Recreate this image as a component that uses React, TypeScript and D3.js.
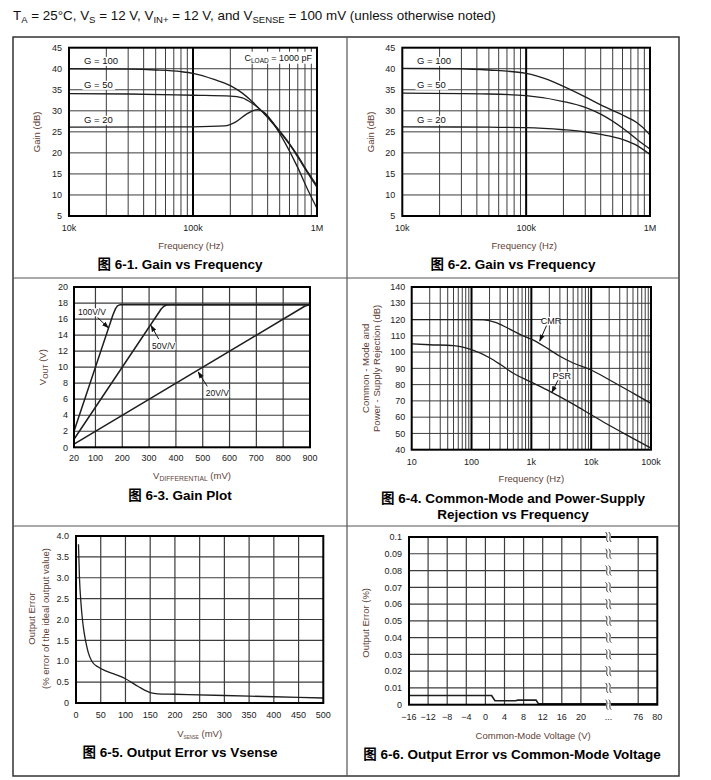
import React from 'react';
import * as d3 from 'd3';

type Pt = [number, number];

// ---------------- DATA ----------------
// Fig 6-1 Gain vs Frequency (CLOAD = 1000 pF)
const fig1G100: Pt[] = [[1e4, 40], [3e4, 39.9], [5e4, 39.7], [8e4, 39.3], [1e5, 38.9], [1.5e5, 37.4], [2e5, 36], [2.5e5, 34.2], [3e5, 32.2], [4e5, 28.4], [5e5, 25], [6e5, 22], [7e5, 19], [8.5e5, 15], [1e6, 11.8]];
const fig1G50: Pt[] = [[1e4, 34.1], [3e4, 34], [1e5, 33.7], [2e5, 33.5], [2.5e5, 33.1], [3e5, 31.8], [4e5, 28.6], [5e5, 25.2], [6e5, 22.2], [7e5, 19.3], [8.5e5, 15.3], [1e6, 12.2]];
const fig1G20: Pt[] = [[1e4, 26.1], [1e5, 26.2], [1.8e5, 26.4], [2.2e5, 27.3], [2.7e5, 29.2], [3.3e5, 30.3], [3.8e5, 29.5], [4.5e5, 26.8], [5.5e5, 22.5], [7e5, 16.5], [8.5e5, 11], [1e6, 6.8]];
// Fig 6-2 Gain vs Frequency
const fig2G100: Pt[] = [[1e4, 40.1], [3e4, 40], [5e4, 39.7], [1e5, 38.9], [1.5e5, 37.4], [2e5, 35.8], [3e5, 33.3], [4e5, 31.4], [6e5, 29], [8e5, 27], [9e5, 25.7], [1e6, 24.2]];
const fig2G50: Pt[] = [[1e4, 34.2], [5e4, 34], [1e5, 33.6], [2e5, 32.2], [3e5, 30.8], [4e5, 29.2], [6e5, 25.9], [8e5, 23], [1e6, 20.9]];
const fig2G20: Pt[] = [[1e4, 26.2], [5e4, 26.1], [1e5, 26], [2e5, 25.5], [3e5, 25], [4e5, 24.4], [6e5, 23.2], [8e5, 21.6], [1e6, 19.6]];
const gainTicks = [5, 10, 15, 20, 25, 30, 35, 40, 45];
const gainFreqTicks = [1e4, 1e5, 1e6];
const gainFreqLabels = ['10k', '100k', '1M'];
const gainSeriesLabels = ['G = 100', 'G = 50', 'G = 20'];

// Fig 6-3 Gain Plot
const fig3G100: Pt[] = [[20, 2], [165, 16.5], [175, 17.3], [182, 17.65], [192, 17.8], [900, 17.8]];
const fig3G50: Pt[] = [[20, 1], [345, 17.25], [355, 17.6], [365, 17.75], [380, 17.8], [900, 17.8]];
const fig3G20: Pt[] = [[20, 0.4], [880, 17.6], [900, 17.8]];
const fig3XTicks = [20, 100, 200, 300, 400, 500, 600, 700, 800, 900];
const fig3YTicks = [0, 2, 4, 6, 8, 10, 12, 14, 16, 18, 20];
const fig3Labels = ['100V/V', '50V/V', '20V/V'];

// Fig 6-4 CMR / PSR
const fig4CMR: Pt[] = [[10, 120], [100, 120], [160, 119.8], [250, 118.3], [400, 114.8], [700, 110.3], [1000, 108], [2000, 101.5], [3000, 97.4], [5000, 93.3], [1e4, 89], [2e4, 83], [5e4, 74.8], [1e5, 68.5]];
const fig4PSR: Pt[] = [[10, 105], [20, 104.5], [50, 104], [100, 101.5], [200, 96.5], [300, 92.5], [500, 87], [1000, 81.5], [2000, 76], [5000, 68], [1e4, 61.5], [2e4, 55], [5e4, 47], [1e5, 41]];
const fig4XTicks = [10, 100, 1e3, 1e4, 1e5];
const fig4XLabels = ['10', '100', '1k', '10k', '100k'];
const fig4YTicks = [40, 50, 60, 70, 80, 90, 100, 110, 120, 130, 140];

// Fig 6-5 Output error vs Vsense
const fig5Err: Pt[] = [[5, 3.8], [7, 3.0], [10, 2.4], [13, 2.0], [16, 1.72], [20, 1.45], [25, 1.2], [32, 1.0], [45, 0.86], [60, 0.77], [80, 0.68], [100, 0.58], [125, 0.4], [150, 0.25], [165, 0.22], [200, 0.21], [300, 0.18], [400, 0.15], [500, 0.12]];
const fig5XTicks = [0, 50, 100, 150, 200, 250, 300, 350, 400, 450, 500];
const fig5YTicks = [0, 0.5, 1.0, 1.5, 2.0, 2.5, 3.0, 3.5, 4.0];

// Fig 6-6 Output error vs common-mode voltage
const fig6Err: Pt[] = [[-16, 0.0055], [1.3, 0.0055], [2, 0.0024], [6.3, 0.0024], [6.8, 0.0027], [10.6, 0.0027], [11.1, 0.0006], [80, 0.0006]];
const fig6XTicks = [-16, -12, -8, -4, 0, 4, 8, 12, 16, 20, 76, 80];
const fig6YTicks = [0, 0.01, 0.02, 0.03, 0.04, 0.05, 0.06, 0.07, 0.08, 0.09, 0.1];

// ---------------- STYLE ----------------
const SANS = "'Liberation Sans', Arial, Helvetica, sans-serif";
const TITLE_FONT = "'Liberation Sans', 'Noto Sans CJK SC', sans-serif";
const GRID = '#3c3c3c';
const AXIS_TITLE = '#5e4137';
const CURVE = '#1e1e1e';
const TICK_FS = 9;
const AXIS_FS = 9.5;

function logGrid(min: number, max: number) {
  const out: { v: number; major: boolean }[] = [];
  for (let d = min; d < max; d *= 10) {
    for (let k = 1; k < 10; k++) {
      const v = d * k;
      if (v > min * 1.0001 && v < max * 0.9999) out.push({ v, major: k === 1 });
    }
  }
  return out;
}

function Border({ l, r, t, b }: { l: number; r: number; t: number; b: number }) {
  return <rect x={l} y={t} width={r - l} height={b - t} fill="none" stroke="#000" strokeWidth={2} />;
}

function Title({ x, y, lines }: { x: number; y: number; lines: string[] }) {
  return (
    <text x={x} y={y} textAnchor="middle" fontFamily={TITLE_FONT} fontWeight="bold" fontSize={13.5} fill="#000">
      {lines.map((s, i) => (
        <tspan key={i} x={x} dy={i === 0 ? 0 : 16}>{s}</tspan>
      ))}
    </text>
  );
}

function LabelBox({ x, y, text, fs = 9.5, anchor = 'start' }: { x: number; y: number; text: string; fs?: number; anchor?: string }) {
  const w = text.length * fs * 0.52;
  const x0 = anchor === 'middle' ? x - w / 2 : x;
  return (
    <g>
      <rect x={x0 - 1.5} y={y - fs * 0.8} width={w + 3} height={fs * 0.95} fill="#fff" />
      <text x={x} y={y} fontSize={fs} textAnchor={anchor as any} fill="#111">{text}</text>
    </g>
  );
}

// ---------------- PANELS ----------------
function GainPanel(p: { l: number; r: number; t: number; b: number; g100: Pt[]; g50: Pt[]; g20: Pt[]; cload: boolean; labelX: number; yTitleX: number; cellCx: number; title: string }) {
  const { l, r, t, b } = p;
  const xs = d3.scaleLog().domain([gainFreqTicks[0], gainFreqTicks[gainFreqTicks.length - 1]]).range([l, r]);
  const ys = d3.scaleLinear().domain([gainTicks[0], gainTicks[gainTicks.length - 1]]).range([b, t]);
  const line = d3.line<Pt>().x(d => xs(d[0])).y(d => ys(d[1])).curve(d3.curveMonotoneX);
  const vg = logGrid(gainFreqTicks[0], gainFreqTicks[gainFreqTicks.length - 1]);
  const labelYs = [41.85, 36.15, 27.85];
  return (
    <g>
      {gainTicks.slice(1, -1).map(v => (
        <line key={'h' + v} x1={l} x2={r} y1={ys(v)} y2={ys(v)} stroke={GRID} strokeWidth={1} />
      ))}
      {vg.map((g, i) => (
        <line key={'v' + i} x1={xs(g.v)} x2={xs(g.v)} y1={t} y2={b} stroke={g.major ? '#000' : GRID} strokeWidth={g.major ? 2 : 1} />
      ))}
      {[p.g100, p.g50, p.g20].map((s, i) => (
        <path key={'c' + i} d={line(s) || ''} fill="none" stroke={CURVE} strokeWidth={1.3} />
      ))}
      {gainSeriesLabels.map((s, i) => (
        <LabelBox key={s} x={p.labelX} y={ys(labelYs[i]) + 3.5} text={s} fs={9.5} />
      ))}
      {p.cload && (
        <g>
          <rect x={r - 73} y={t + 4} width={71} height={12} fill="#fff" />
          <text x={r - 5} y={t + 13} fontSize={9} textAnchor="end" fill="#111">
            C<tspan dy={2} fontSize={6.5}>LOAD</tspan><tspan dy={-2}> = 1000 pF</tspan>
          </text>
        </g>
      )}
      <Border l={l} r={r} t={t} b={b} />
      {gainTicks.map(v => (
        <text key={'yt' + v} x={l - 7} y={ys(v) + 3.2} fontSize={TICK_FS} textAnchor="end" fill="#222">{v}</text>
      ))}
      {gainFreqTicks.map((v, i) => (
        <text key={'xt' + v} x={xs(v)} y={b + 15} fontSize={TICK_FS} textAnchor="middle" fill="#222">{gainFreqLabels[i]}</text>
      ))}
      <text x={(l + r) / 2 - 2} y={b + 33} fontSize={AXIS_FS} textAnchor="middle" fill={AXIS_TITLE}>Frequency (Hz)</text>
      <text transform={`translate(${p.yTitleX},${(t + b) / 2}) rotate(-90)`} fontSize={AXIS_FS} textAnchor="middle" fill={AXIS_TITLE}>Gain (dB)</text>
      <Title x={p.cellCx} y={b + 53} lines={[p.title]} />
    </g>
  );
}

function Fig3() {
  const l = 74, r = 310, t = 287, b = 447.3;
  const xs = d3.scaleLinear().domain([fig3XTicks[0], fig3XTicks[fig3XTicks.length - 1]]).range([l, r]);
  const ys = d3.scaleLinear().domain([fig3YTicks[0], fig3YTicks[fig3YTicks.length - 1]]).range([b, t]);
  const line = d3.line<Pt>().x(d => xs(d[0])).y(d => ys(d[1])).curve(d3.curveLinear);
  const ann = [
    { lx: 35, ly: 16.5, from: [108, 16.2], to: [148, 14.9] },
    { lx: 311, ly: 12.3, from: [336, 13.5], to: [307, 15.2] },
    { lx: 511, ly: 6.4, from: [517, 7.6], to: [483, 9.4] },
  ];
  return (
    <g>
      {fig3YTicks.slice(1, -1).map(v => (
        <line key={'h' + v} x1={l} x2={r} y1={ys(v)} y2={ys(v)} stroke={GRID} strokeWidth={1.2} />
      ))}
      {fig3XTicks.slice(1, -1).map(v => (
        <line key={'v' + v} x1={xs(v)} x2={xs(v)} y1={t} y2={b} stroke={GRID} strokeWidth={1.2} />
      ))}
      {[fig3G100, fig3G50, fig3G20].map((s, i) => (
        <path key={'c' + i} d={line(s) || ''} fill="none" stroke={CURVE} strokeWidth={1.5} strokeLinejoin="round" />
      ))}
      {ann.map((a, i) => (
        <g key={'a' + i}>
          <line x1={xs(a.from[0])} y1={ys(a.from[1])} x2={xs(a.to[0])} y2={ys(a.to[1])} stroke="#111" strokeWidth={1} markerEnd="url(#arr)" />
          <LabelBox x={xs(a.lx)} y={ys(a.ly)} text={fig3Labels[i]} fs={8.5} />
        </g>
      ))}
      <Border l={l} r={r} t={t} b={b} />
      {fig3YTicks.map(v => (
        <text key={'yt' + v} x={l - 6} y={ys(v) + 3.2} fontSize={TICK_FS} textAnchor="end" fill="#222">{v}</text>
      ))}
      {fig3XTicks.map(v => (
        <text key={'xt' + v} x={xs(v)} y={b + 14} fontSize={TICK_FS} textAnchor="middle" fill="#222">{v}</text>
      ))}
      <text x={(l + r) / 2} y={b + 32} fontSize={AXIS_FS} textAnchor="middle" fill={AXIS_TITLE}>
        V<tspan dy={2} fontSize={6.8}>DIFFERENTIAL</tspan><tspan dy={-2}> (mV)</tspan>
      </text>
      <text transform={`translate(${l - 28},${(t + b) / 2}) rotate(-90)`} fontSize={AXIS_FS} textAnchor="middle" fill={AXIS_TITLE}>
        V<tspan dy={2} fontSize={6.8}>OUT</tspan><tspan dy={-2}> (V)</tspan>
      </text>
      <Title x={180} y={499.5} lines={['图 6-3. Gain Plot']} />
    </g>
  );
}

function Fig4() {
  const l = 411.7, r = 651, t = 287, b = 449.7;
  const xs = d3.scaleLog().domain([fig4XTicks[0], fig4XTicks[fig4XTicks.length - 1]]).range([l, r]);
  const ys = d3.scaleLinear().domain([fig4YTicks[0], fig4YTicks[fig4YTicks.length - 1]]).range([b, t]);
  const line = d3.line<Pt>().x(d => xs(d[0])).y(d => ys(d[1])).curve(d3.curveMonotoneX);
  const vg = logGrid(fig4XTicks[0], fig4XTicks[fig4XTicks.length - 1]);
  return (
    <g>
      {fig4YTicks.slice(1, -1).map(v => (
        <line key={'h' + v} x1={l} x2={r} y1={ys(v)} y2={ys(v)} stroke={GRID} strokeWidth={1} />
      ))}
      {vg.map((g, i) => (
        <line key={'v' + i} x1={xs(g.v)} x2={xs(g.v)} y1={t} y2={b} stroke={g.major ? '#000' : GRID} strokeWidth={g.major ? 2 : 1} />
      ))}
      {[fig4CMR, fig4PSR].map((s, i) => (
        <path key={'c' + i} d={line(s) || ''} fill="none" stroke={CURVE} strokeWidth={1.3} />
      ))}
      <line x1={xs(1800)} y1={ys(116.4)} x2={xs(1380)} y2={ys(106.8)} stroke="#111" strokeWidth={1} markerEnd="url(#arr)" />
      <line x1={xs(2800)} y1={ys(82.8)} x2={xs(2200)} y2={ys(75.2)} stroke="#111" strokeWidth={1} markerEnd="url(#arr)" />
      <LabelBox x={xs(2130)} y={ys(119.3) + 3.3} text="CMR" fs={9} anchor="middle" />
      <LabelBox x={xs(3210)} y={ys(85.5) + 3.3} text="PSR" fs={9} anchor="middle" />
      <Border l={l} r={r} t={t} b={b} />
      {fig4YTicks.map(v => (
        <text key={'yt' + v} x={l - 6.5} y={ys(v) + 3.2} fontSize={TICK_FS} textAnchor="end" fill="#222">{v}</text>
      ))}
      {fig4XTicks.map((v, i) => (
        <text key={'xt' + v} x={xs(v)} y={b + 15} fontSize={TICK_FS} textAnchor="middle" fill="#222">{fig4XLabels[i]}</text>
      ))}
      <text x={(l + r) / 2} y={b + 32} fontSize={AXIS_FS} textAnchor="middle" fill={AXIS_TITLE}>Frequency (Hz)</text>
      <text transform={`translate(${368.5},${(t + b) / 2}) rotate(-90)`} fontSize={AXIS_FS} textAnchor="middle" fill={AXIS_TITLE}>Common - Mode and</text>
      <text transform={`translate(${380},${(t + b) / 2}) rotate(-90)`} fontSize={AXIS_FS} textAnchor="middle" fill={AXIS_TITLE}>Power - Supply Rejection (dB)</text>
      <Title x={513} y={503} lines={['图 6-4. Common-Mode and Power-Supply', 'Rejection vs Frequency']} />
    </g>
  );
}

function Fig5() {
  const l = 76, r = 323.3, t = 536, b = 703;
  const xs = d3.scaleLinear().domain([fig5XTicks[0], fig5XTicks[fig5XTicks.length - 1]]).range([l, r]);
  const ys = d3.scaleLinear().domain([fig5YTicks[0], fig5YTicks[fig5YTicks.length - 1]]).range([b, t]);
  const line = d3.line<Pt>().x(d => xs(d[0])).y(d => ys(d[1])).curve(d3.curveMonotoneX);
  return (
    <g>
      {fig5YTicks.slice(1, -1).map(v => (
        <line key={'h' + v} x1={l} x2={r} y1={ys(v)} y2={ys(v)} stroke={GRID} strokeWidth={1.2} />
      ))}
      {fig5XTicks.slice(1, -1).map(v => (
        <line key={'v' + v} x1={xs(v)} x2={xs(v)} y1={t} y2={b} stroke={GRID} strokeWidth={1.2} />
      ))}
      <path d={line(fig5Err) || ''} fill="none" stroke={CURVE} strokeWidth={1.3} />
      <Border l={l} r={r} t={t} b={b} />
      {fig5YTicks.map(v => (
        <text key={'yt' + v} x={l - 7} y={ys(v) + 3.2} fontSize={TICK_FS} textAnchor="end" fill="#222">{v === 0 ? '0' : v.toFixed(1)}</text>
      ))}
      {fig5XTicks.map(v => (
        <text key={'xt' + v} x={xs(v)} y={b + 15} fontSize={TICK_FS} textAnchor="middle" fill="#222">{v}</text>
      ))}
      <text x={(l + r) / 2} y={b + 34} fontSize={AXIS_FS} textAnchor="middle" fill={AXIS_TITLE}>
        V<tspan dy={1.5} fontSize={4.5}>SENSE</tspan><tspan dy={-1.5}> (mV)</tspan>
      </text>
      <text transform={`translate(${35},${(t + b) / 2 - 1}) rotate(-90)`} fontSize={AXIS_FS} textAnchor="middle" fill={AXIS_TITLE}>Output Error</text>
      <text transform={`translate(${48.5},${(t + b) / 2 - 1}) rotate(-90)`} fontSize={AXIS_FS} textAnchor="middle" fill={AXIS_TITLE}>(% error of the ideal output value)</text>
      <Title x={180} y={757} lines={['图 6-5. Output Error vs Vsense']} />
    </g>
  );
}

function Fig6() {
  const l = 409, r = 657.3, t = 537, b = 704.7;
  // piecewise position: -16..20 -> 0..9, 76..80 -> 12..13 (axis break between)
  const idx = (v: number) => (v <= 20 ? (v + 16) / 4 : v >= 76 ? 12 + (v - 76) / 4 : 9 + ((v - 20) / 56) * 3);
  const pos = d3.scaleLinear().domain([0, 13]).range([l, r]);
  const xs = (v: number) => pos(idx(v));
  const ys = d3.scaleLinear().domain([fig6YTicks[0], fig6YTicks[fig6YTicks.length - 1]]).range([b, t]);
  const line = d3.line<Pt>().x(d => xs(d[0])).y(d => ys(d[1]));
  const breakX = pos(10.44);
  const fmt = (v: number) => (v < 0 ? '\u2212' + Math.abs(v) : String(v));
  return (
    <g>
      {fig6YTicks.slice(1, -1).map(v => (
        <line key={'h' + v} x1={l} x2={r} y1={ys(v)} y2={ys(v)} stroke={GRID} strokeWidth={1.2} />
      ))}
      {fig6XTicks.slice(1, -1).map(v => (
        <line key={'v' + v} x1={xs(v)} x2={xs(v)} y1={t} y2={b} stroke={GRID} strokeWidth={1.2} />
      ))}
      <path d={line(fig6Err) || ''} fill="none" stroke={CURVE} strokeWidth={1.6} />
      <Border l={l} r={r} t={t} b={b} />
      {fig6YTicks.map(v => (
        <g key={'br' + v}>
          <rect x={breakX - 2.5} y={ys(v) - 1.5} width={5} height={3} fill="#fff" />
          {[-1.6, 1.6].map(dx => (
            <path key={dx} d={`M${breakX + dx - 1.3},${ys(v) - 5} C${breakX + dx + 2.2},${ys(v) - 2.5} ${breakX + dx - 2.2},${ys(v) + 2.5} ${breakX + dx + 1.3},${ys(v) + 5}`} fill="none" stroke="#222" strokeWidth={0.9} />
          ))}
        </g>
      ))}
      {fig6YTicks.map(v => (
        <text key={'yt' + v} x={l - 7} y={ys(v) + 3.2} fontSize={TICK_FS} textAnchor="end" fill="#222">{v === 0 ? '0' : String(+v.toFixed(2))}</text>
      ))}
      {fig6XTicks.map(v => (
        <text key={'xt' + v} x={xs(v)} y={b + 15} fontSize={TICK_FS} textAnchor="middle" fill="#222">{fmt(v)}</text>
      ))}
      <text x={breakX} y={b + 15} fontSize={TICK_FS} textAnchor="middle" fill="#222">...</text>
      <text x={(l + r) / 2} y={b + 34} fontSize={AXIS_FS} textAnchor="middle" fill={AXIS_TITLE}>Common-Mode Voltage (V)</text>
      <text transform={`translate(${369},${(t + b) / 2 + 2}) rotate(-90)`} fontSize={AXIS_FS} textAnchor="middle" fill={AXIS_TITLE}>Output Error (%)</text>
      <Title x={512} y={759} lines={['图 6-6. Output Error vs Common-Mode Voltage']} />
    </g>
  );
}

export default function App() {
  const L = 13, R = 679, T = 37, B = 776, MX = 347, R1 = 278, R2 = 526;
  return (
    <svg width={711} height={780} style={{ position: 'absolute', left: 0, top: 0, background: '#fff' }} fontFamily={SANS}>
      <defs>
        <marker id="arr" viewBox="0 0 10 10" refX="9" refY="5" markerWidth="7" markerHeight="7" markerUnits="userSpaceOnUse" orient="auto">
          <path d="M0,1.5 L10,5 L0,8.5 z" fill="#111" />
        </marker>
      </defs>
      <rect x={0} y={0} width={711} height={780} fill="#fff" />
      <text x={13} y={20} fontSize={13.4} fill="#111">
        T<tspan dy={3} fontSize={9.5}>A</tspan><tspan dy={-3}> = 25°C, V</tspan><tspan dy={3} fontSize={9.5}>S</tspan><tspan dy={-3}> = 12 V, V</tspan><tspan dy={3} fontSize={9.5}>IN+</tspan><tspan dy={-3}> = 12 V, and V</tspan><tspan dy={3} fontSize={9.5}>SENSE</tspan><tspan dy={-3}> = 100 mV (unless otherwise noted)</tspan>
      </text>
      {/* table */}
      <rect x={L} y={T} width={R - L} height={B - T} fill="none" stroke="#333" strokeWidth={1.5} />
      <line x1={MX} x2={MX} y1={T} y2={B} stroke="#555" strokeWidth={1.2} />
      <line x1={L} x2={R} y1={R1} y2={R1} stroke="#555" strokeWidth={1.2} />
      <line x1={L} x2={R} y1={R2} y2={R2} stroke="#555" strokeWidth={1.2} />

      <GainPanel l={69} r={317} t={47.7} b={216} g100={fig1G100} g50={fig1G50} g20={fig1G20} cload={true} labelX={84} yTitleX={40} cellCx={180} title="图 6-1. Gain vs Frequency" />
      <GainPanel l={402.3} r={650} t={47.7} b={216} g100={fig2G100} g50={fig2G50} g20={fig2G20} cload={false} labelX={417} yTitleX={374} cellCx={513} title="图 6-2. Gain vs Frequency" />
      <Fig3 />
      <Fig4 />
      <Fig5 />
      <Fig6 />
    </svg>
  );
}
